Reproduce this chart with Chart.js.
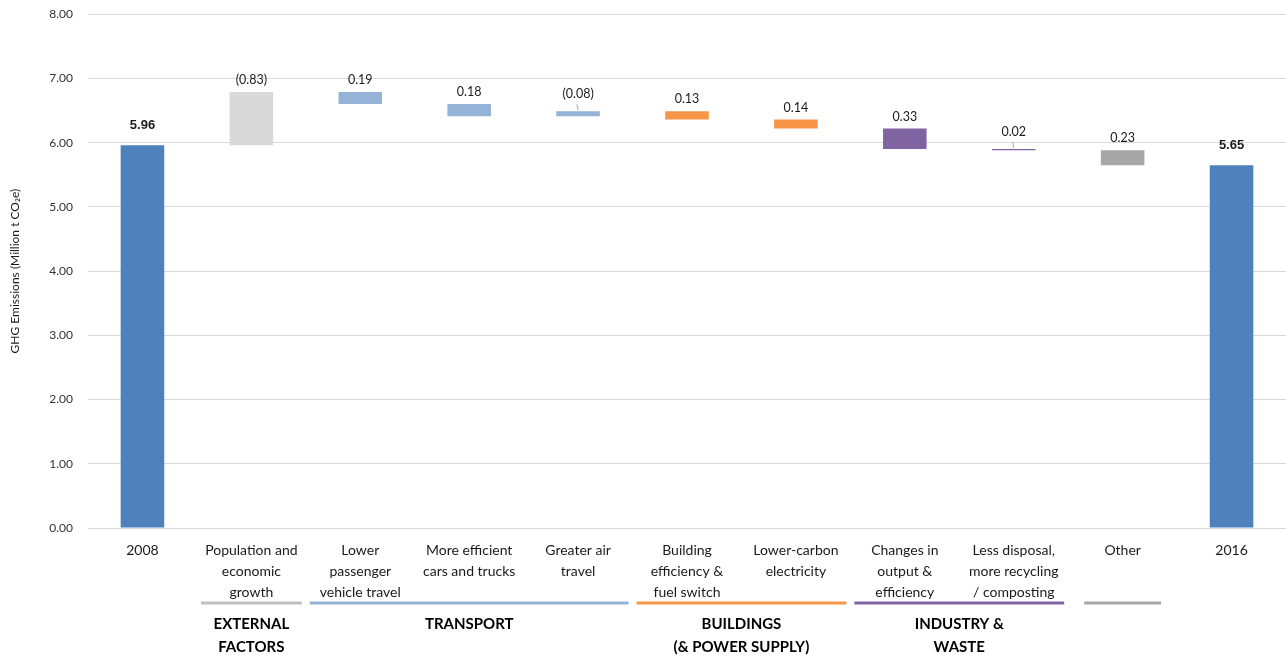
<!DOCTYPE html>
<html>
<head>
<meta charset="utf-8">
<script src="https://cdn.jsdelivr.net/npm/chart.js@4.4.1/dist/chart.umd.min.js"></script>
<style>
  html, body { margin: 0; padding: 0; background: #fff; }
  #wrap { width: 1286px; height: 658px; position: relative; }
</style>
</head>
<body>
<div id="wrap"><canvas id="ghgChart" width="1286" height="658"></canvas></div>
<script>
// categories (multi-line tick labels)
const categories = [
    ["2008"],
    ["Population and", "economic", "growth"],
    ["Lower", "passenger", "vehicle travel"],
    ["More efficient", "cars and trucks"],
    ["Greater air", "travel"],
    ["Building", "efficiency &", "fuel switch"],
    ["Lower-carbon", "electricity"],
    ["Changes in", "output &", "efficiency"],
    ["Less disposal,", "more recycling", "/ composting"],
    ["Other"],
    ["2016"]
];

// floating bar start / end (Million t CO2e)
const barStart = [0, 5.96, 6.79, 6.60, 6.41, 6.49, 6.36, 6.22, 5.90, 5.88, 0];
const barEnd   = [5.96, 6.79, 6.60, 6.41, 6.49, 6.36, 6.22, 5.90, 5.88, 5.65, 5.65];

// labels printed over each bar
const valueLabels = ["5.96", "(0.83)", "0.19", "0.18", "(0.08)", "0.13", "0.14", "0.33", "0.02", "0.23", "5.65"];
const boldLabels = [true, false, false, false, false, false, false, false, false, false, true];

const barColors = ["#4F81BD", "#D9D9D9", "#95B3D7", "#95B3D7", "#95B3D7", "#F79646", "#F79646",
                   "#8064A2", "#8064A2", "#A6A6A6", "#4F81BD"];

// groups under the axis
const groupNames = [["EXTERNAL", "FACTORS"], ["TRANSPORT"], ["BUILDINGS", "(& POWER SUPPLY)"], ["INDUSTRY &", "WASTE"], [""]];
const groupFirst = [1, 2, 5, 7, 9];
const groupLast  = [1, 4, 6, 8, 9];
const groupColors = ["#BFBFBF", "#95B3D7", "#F79646", "#8064A2", "#A6A6A6"];

const yTicks = [0, 1, 2, 3, 4, 5, 6, 7, 8];

const FONT = "Lato, 'Open Sans', sans-serif";

const labelPlugin = {
    id: "barLabels",
    afterDatasetsDraw(chart) {
        const ctx = chart.ctx;
        const meta = chart.getDatasetMeta(0);
        ctx.save();
        ctx.textAlign = "center";
        ctx.textBaseline = "middle";
        meta.data.forEach((bar, i) => {
            const top = Math.min(bar.y, bar.base);
            const small = Math.abs(barEnd[i] - barStart[i]) < 0.1;
            let ty = top - 12;
            if (boldLabels[i]) ty = top - 20;
            if (small) {
                ctx.strokeStyle = "#A6A6A6";
                ctx.lineWidth = 1;
                ctx.beginPath();
                ctx.moveTo(bar.x, top - 1);
                ctx.lineTo(bar.x - 1, top - 7);
                ctx.stroke();
                ty = top - 17;
            }
            ctx.fillStyle = "#1a1a1a";
            ctx.font = boldLabels[i] ? "bold 13px 'Liberation Sans', Arial, sans-serif" : "12.5px " + FONT;
            ctx.fillText(valueLabels[i], bar.x, ty);
        });
        ctx.restore();
    }
};

const groupPlugin = {
    id: "groups",
    afterDraw(chart) {
        const ctx = chart.ctx;
        const xs = chart.scales.x;
        const half = (xs.getPixelForValue(1) - xs.getPixelForValue(0)) / 2;
        ctx.save();
        groupNames.forEach((name, g) => {
            const x0 = xs.getPixelForValue(groupFirst[g]) - half + 4;
            const x1 = xs.getPixelForValue(groupLast[g]) + half - 4;
            const inset = g === 4 ? 12 : 0;
            ctx.strokeStyle = groupColors[g];
            ctx.lineWidth = 3;
            ctx.beginPath();
            ctx.moveTo(x0 + inset, 603);
            ctx.lineTo(x1 - inset, 603);
            ctx.stroke();
            ctx.fillStyle = "#000";
            ctx.font = "bold 15px " + FONT;
            ctx.textAlign = "center";
            ctx.textBaseline = "middle";
            const cx = (x0 + x1) / 2;
            name.forEach((line, k) => {
                ctx.fillText(line, cx, 624 + k * 23);
            });
        });
        ctx.restore();
    }
};

new Chart(document.getElementById("ghgChart"), {
    type: "bar",
    data: {
        labels: categories,
        datasets: [{
            data: barStart.map((s, i) => [s, barEnd[i]]),
            backgroundColor: barColors,
            borderWidth: 0,
            barPercentage: 0.4,
            categoryPercentage: 1.0
        }]
    },
    options: {
        responsive: false,
        animation: false,
        layout: { padding: { top: 5, right: 0, bottom: 0, left: 0 } },
        plugins: {
            legend: { display: false },
            tooltip: { enabled: false }
        },
        scales: {
            x: {
                grid: { display: false },
                border: { display: false },
                ticks: {
                    color: "#1a1a1a",
                    font: { family: FONT, size: 14, lineHeight: 1.5 },
                    padding: 4,
                    maxRotation: 0,
                    autoSkip: false
                },
                afterFit(scale) { scale.height = 130; }
            },
            y: {
                min: 0,
                max: 8,
                afterBuildTicks(scale) { scale.ticks = yTicks.map(v => ({ value: v })); },
                grid: { color: "#D9D9D9", lineWidth: 1, drawTicks: true, tickLength: 8, tickColor: "rgba(0,0,0,0)" },
                border: { display: false },
                ticks: {
                    color: "#333",
                    font: { family: FONT, size: 12 },
                    padding: 7,
                    callback: (v) => Number(v).toFixed(2)
                },
                title: {
                    display: true,
                    text: "GHG Emissions (Million t CO\u2082e)",
                    color: "#1a1a1a",
                    font: { family: FONT, size: 12 },
                    padding: { top: 8, bottom: 8 }
                },
                afterFit(scale) { scale.width = 88; }
            }
        }
    },
    plugins: [labelPlugin, groupPlugin]
});
</script>
</body>
</html>
